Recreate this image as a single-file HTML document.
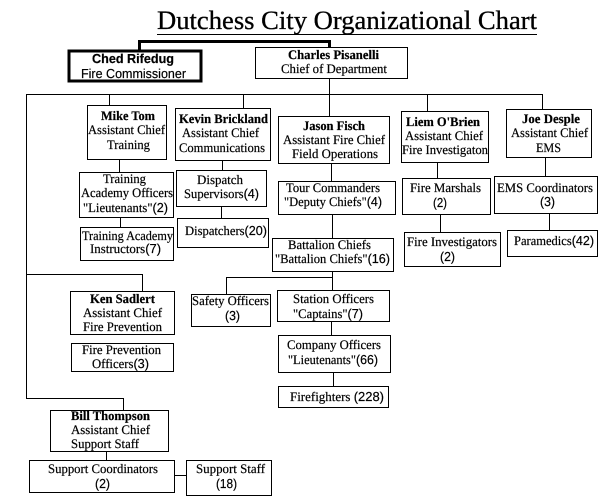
<!DOCTYPE html>
<html><head><meta charset="utf-8"><style>
html,body{margin:0;padding:0;background:#fff}
svg{display:block}
text{font-family:"Liberation Serif",serif;font-size:13px;fill:#000;stroke:#000;stroke-width:.2px}
.b{font-weight:bold}
.s{font-family:"Liberation Sans",sans-serif}
.t{font-size:26px;stroke-width:.3px}
rect{fill:#fff;stroke:#000;stroke-width:1}
path{fill:none;stroke:#000;stroke-width:1}
</style></head><body>
<svg xmlns="http://www.w3.org/2000/svg" width="600" height="500" viewBox="0 0 600 500" shape-rendering="crispEdges">
<rect x="0" y="0" width="600" height="500" style="stroke:none"/>
<text class="t" x="157" y="29" textLength="380" lengthAdjust="spacingAndGlyphs">Dutchess City Organizational Chart</text>
<path d="M157 34.5H537"/>
<path d="M139.5 50V41.5H329.5V47" style="stroke-width:3"/>
<path d="M329.5 78V116M26.5 94.5H542.5M26.5 94V398.5H123.5V410M109.5 94V105M243.5 94V108M427.5 94V111M542.5 94V109"/>
<path d="M119.5 159V172M222.5 160V170M331.5 163V181M437.5 162V178M545.5 157V176"/>
<path d="M120.5 217V227M221.5 206V218M332.5 214V238M440.5 214V232M549.5 213V230"/>
<path d="M332.5 271V290M226.5 294V277.5H332.5M26.5 274.5H142.5V291M331.5 321V335M333.5 372V386M106.5 451V460M175 475.5H186"/>
<rect x="69" y="51" width="132" height="30" style="stroke-width:3"/>
<rect x="255.5" y="47.5" width="152" height="31"/>
<rect x="87.5" y="105.5" width="79" height="54"/>
<rect x="175.5" y="108.5" width="95" height="52"/>
<rect x="278.5" y="116.5" width="111" height="47"/>
<rect x="401.5" y="111.5" width="87" height="51"/>
<rect x="506.5" y="109.5" width="85" height="48"/>
<rect x="79.5" y="172.5" width="94" height="45"/>
<rect x="176.5" y="170.5" width="90" height="36"/>
<rect x="80.5" y="227.5" width="93" height="33"/>
<rect x="177.5" y="218.5" width="91" height="29"/>
<rect x="278.5" y="181.5" width="117" height="33"/>
<rect x="402.5" y="178.5" width="88" height="36"/>
<rect x="404.5" y="232.5" width="96" height="34"/>
<rect x="494.5" y="176.5" width="103" height="37"/>
<rect x="507.5" y="230.5" width="90" height="26"/>
<rect x="272.5" y="238.5" width="121" height="33"/>
<rect x="277.5" y="290.5" width="112" height="31"/>
<rect x="191.5" y="294.5" width="79" height="32"/>
<rect x="278.5" y="335.5" width="112" height="37"/>
<rect x="278.5" y="386.5" width="110" height="21"/>
<rect x="70.5" y="291.5" width="104" height="43"/>
<rect x="71.5" y="343.5" width="102" height="28"/>
<rect x="50.5" y="410.5" width="118" height="41"/>
<rect x="29.5" y="460.5" width="145" height="32"/>
<rect x="186.5" y="460.5" width="85" height="35"/>

<g text-rendering="geometricPrecision">
<text class="s b" x="92" y="63" textLength="82" lengthAdjust="spacingAndGlyphs">Ched Rifedug</text>
<text class="s" x="81" y="78" textLength="105" lengthAdjust="spacingAndGlyphs">Fire Commissioner</text>
<text class="b" x="288" y="59" textLength="91" lengthAdjust="spacingAndGlyphs">Charles Pisanelli</text>
<text x="281" y="73" textLength="106" lengthAdjust="spacingAndGlyphs">Chief of Department</text>

<text class="b" x="101" y="120" textLength="54" lengthAdjust="spacingAndGlyphs">Mike Tom</text>
<text x="88" y="134" textLength="77" lengthAdjust="spacingAndGlyphs">Assistant Chief</text>
<text x="107" y="149" textLength="43" lengthAdjust="spacingAndGlyphs">Training</text>

<text class="b" x="179" y="123" textLength="89" lengthAdjust="spacingAndGlyphs">Kevin Brickland</text>
<text x="182" y="137" textLength="77" lengthAdjust="spacingAndGlyphs">Assistant Chief</text>
<text x="179" y="152" textLength="86" lengthAdjust="spacingAndGlyphs">Communications</text>

<text class="b" x="303" y="130" textLength="62" lengthAdjust="spacingAndGlyphs">Jason Fisch</text>
<text x="283" y="144" textLength="102" lengthAdjust="spacingAndGlyphs">Assistant Fire Chief</text>
<text x="292" y="158" textLength="86" lengthAdjust="spacingAndGlyphs">Field Operations</text>

<text class="b" x="406" y="126" textLength="74" lengthAdjust="spacingAndGlyphs">Liem O'Brien</text>
<text x="405" y="140" textLength="78" lengthAdjust="spacingAndGlyphs">Assistant Chief</text>
<text x="402" y="154" textLength="86" lengthAdjust="spacingAndGlyphs">Fire Investigaton</text>

<text class="b" x="522" y="123" textLength="58" lengthAdjust="spacingAndGlyphs">Joe Desple</text>
<text x="511" y="137" textLength="77" lengthAdjust="spacingAndGlyphs">Assistant Chief</text>
<text x="536" y="152" textLength="25" lengthAdjust="spacingAndGlyphs">EMS</text>

<text x="103" y="183" textLength="43" lengthAdjust="spacingAndGlyphs">Training</text>
<text x="81" y="197" textLength="92" lengthAdjust="spacingAndGlyphs">Academy Officers</text>
<text x="83" y="212" textLength="85" lengthAdjust="spacingAndGlyphs">"Lieutenants"<tspan class="s">(2)</tspan></text>

<text x="197" y="184" textLength="46" lengthAdjust="spacingAndGlyphs">Dispatch</text>
<text x="184" y="198" textLength="75" lengthAdjust="spacingAndGlyphs">Supervisors<tspan class="s">(4)</tspan></text>

<text x="82" y="240" textLength="91" lengthAdjust="spacingAndGlyphs">Training Academy</text>
<text x="90" y="253" textLength="71" lengthAdjust="spacingAndGlyphs">Instructors<tspan class="s">(7)</tspan></text>

<text x="185" y="235" textLength="82" lengthAdjust="spacingAndGlyphs">Dispatchers<tspan class="s">(20)</tspan></text>

<text x="286" y="192" textLength="94" lengthAdjust="spacingAndGlyphs">Tour Commanders</text>
<text x="284" y="206" textLength="98" lengthAdjust="spacingAndGlyphs">"Deputy Chiefs"<tspan class="s">(4)</tspan></text>

<text x="288" y="249" textLength="83" lengthAdjust="spacingAndGlyphs">Battalion Chiefs</text>
<text x="275" y="263" textLength="115" lengthAdjust="spacingAndGlyphs">"Battalion Chiefs"<tspan class="s">(16)</tspan></text>

<text x="410" y="192" textLength="71" lengthAdjust="spacingAndGlyphs">Fire Marshals</text>
<text class="s" x="433" y="207" textLength="14" lengthAdjust="spacingAndGlyphs">(2)</text>

<text x="407" y="246" textLength="90" lengthAdjust="spacingAndGlyphs">Fire Investigators</text>
<text class="s" x="440" y="261" textLength="15" lengthAdjust="spacingAndGlyphs">(2)</text>

<text x="497" y="192" textLength="96" lengthAdjust="spacingAndGlyphs">EMS Coordinators</text>
<text class="s" x="540" y="206" textLength="15" lengthAdjust="spacingAndGlyphs">(3)</text>

<text x="514" y="245" textLength="80" lengthAdjust="spacingAndGlyphs">Paramedics<tspan class="s">(42)</tspan></text>

<text x="192" y="305" textLength="77" lengthAdjust="spacingAndGlyphs">Safety Officers</text>
<text class="s" x="225" y="320" textLength="15" lengthAdjust="spacingAndGlyphs">(3)</text>

<text x="293" y="303" textLength="81" lengthAdjust="spacingAndGlyphs">Station Officers</text>
<text x="293" y="318" textLength="70" lengthAdjust="spacingAndGlyphs">"Captains"<tspan class="s">(7)</tspan></text>

<text x="287" y="349" textLength="94" lengthAdjust="spacingAndGlyphs">Company Officers</text>
<text x="288" y="364" textLength="90" lengthAdjust="spacingAndGlyphs">"Lieutenants"<tspan class="s">(66)</tspan></text>

<text x="290" y="401" textLength="94" lengthAdjust="spacingAndGlyphs">Firefighters  <tspan class="s">(228)</tspan></text>

<text class="b" x="90" y="303" textLength="65" lengthAdjust="spacingAndGlyphs">Ken Sadlert</text>
<text x="83" y="317" textLength="79" lengthAdjust="spacingAndGlyphs">Assistant Chief</text>
<text x="83" y="331" textLength="79" lengthAdjust="spacingAndGlyphs">Fire Prevention</text>

<text x="82" y="354" textLength="79" lengthAdjust="spacingAndGlyphs">Fire Prevention</text>
<text x="92" y="368" textLength="57" lengthAdjust="spacingAndGlyphs">Officers<tspan class="s">(3)</tspan></text>

<text class="b" x="71" y="420" textLength="79" lengthAdjust="spacingAndGlyphs">Bill Thompson</text>
<text x="71" y="434" textLength="79" lengthAdjust="spacingAndGlyphs">Assistant Chief</text>
<text x="71" y="448" textLength="68" lengthAdjust="spacingAndGlyphs">Support Staff</text>

<text x="48" y="473" textLength="110" lengthAdjust="spacingAndGlyphs">Support Coordinators</text>
<text class="s" x="95" y="488" textLength="15" lengthAdjust="spacingAndGlyphs">(2)</text>

<text x="196" y="473" textLength="69" lengthAdjust="spacingAndGlyphs">Support Staff</text>
<text class="s" x="216" y="488" textLength="21" lengthAdjust="spacingAndGlyphs">(18)</text>
</g>
</svg>
</body></html>
